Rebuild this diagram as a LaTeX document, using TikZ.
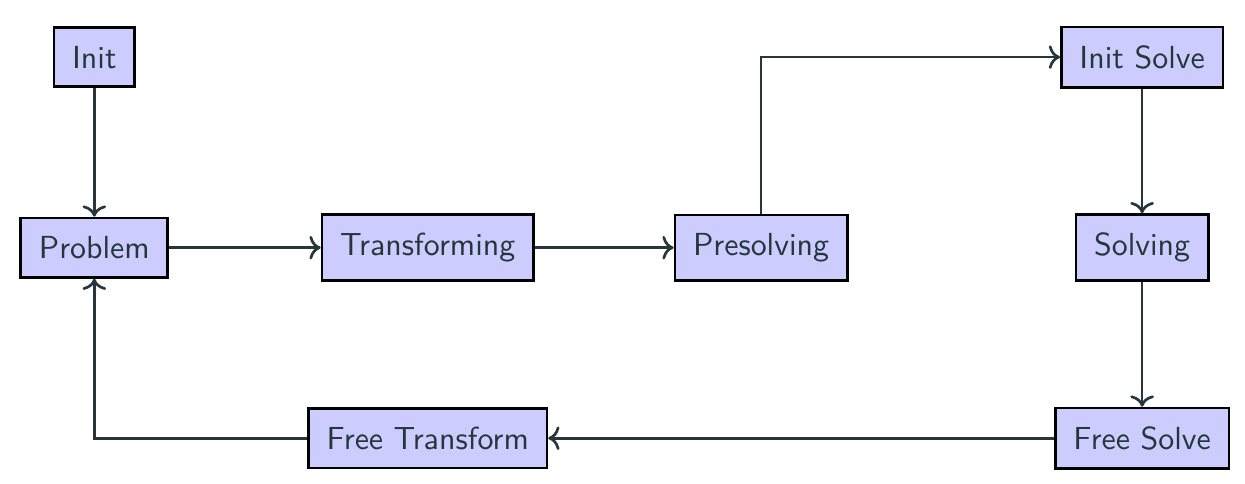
\documentclass[tikz,border=0pt]{standalone}
\usepackage{tikz}
\usetikzlibrary{arrows.meta}
\definecolor{slate}{RGB}{38,54,58}
\renewcommand{\familydefault}{\sfdefault}

\begin{document}
\begin{tikzpicture}[
    state/.style={draw=black, thick, fill=blue!20, text=slate, inner xsep=5.4pt, inner ysep=5.5pt, font=\sffamily\fontsize{9.53}{11}\selectfont},
    flow/.style={thick, draw=slate, ->}
  ]
      \useasboundingbox (-0.99,-2.48) rectangle (12.08,2.6);

      \node [state] (init) at (0,2) {Init};
      \node [state] (problem) at (0,0) {Problem};
      \node [state] (transforming) at (3.5,0) {Transforming};
      \node [state] (presolving) at (7,0) {Presolving};
      \node [state] (initsolve) at (11,2) {Init Solve};
      \node [state] (solving) at (11,0) {Solving};
      \node [state] (freesolve) at (11,-2) {Free Solve};
      \node [state] (freetransform) at (3.5,-2) {Free Transform};

      \draw[flow] (init) -- (problem);
      \draw[flow] (problem) -- (transforming);
      \draw[flow] (transforming) -- (presolving);
      \draw[flow] (presolving) |- (initsolve);
      \draw[flow] (initsolve) -- (solving);
      \draw[flow] (solving) -- (freesolve);
      \draw[flow] (freesolve) -- (freetransform);
      \draw[flow] (freetransform) -| (problem);

    \end{tikzpicture}
\end{document}
